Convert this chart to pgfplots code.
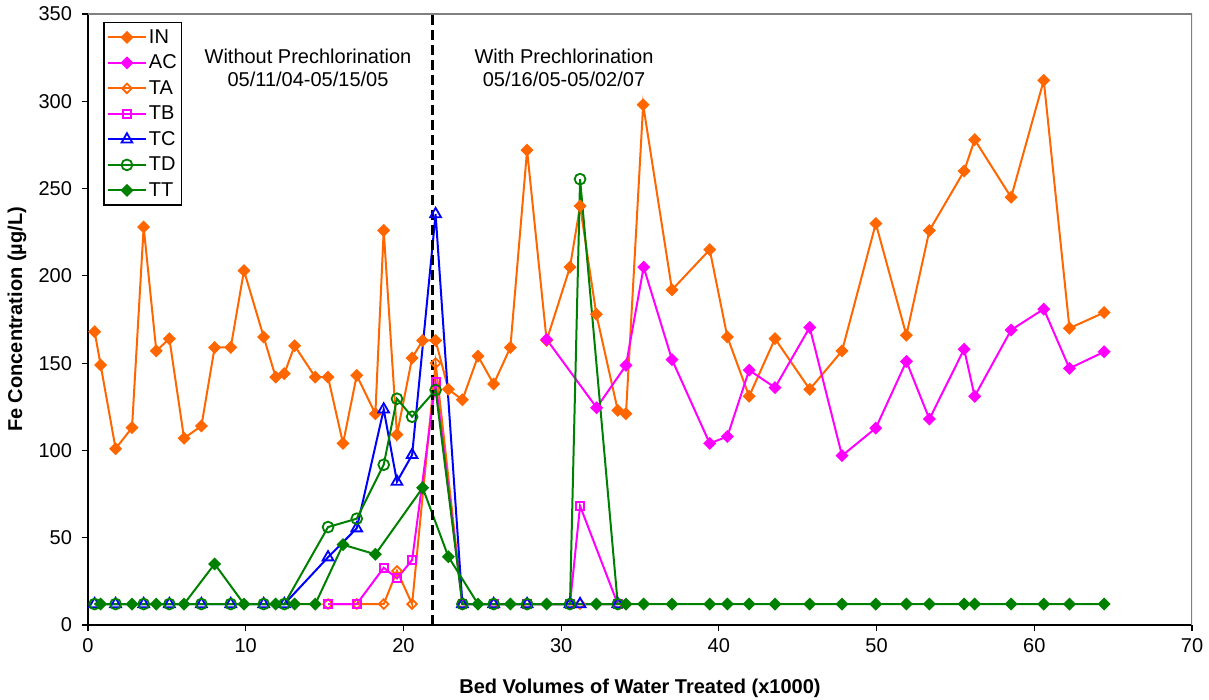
\documentclass[border=0pt]{standalone}
\usepackage{pgfplots}
\pgfplotsset{compat=1.18}
\usepackage{fontspec}
\setmainfont{Liberation Sans}
\definecolor{inorange}{RGB}{255,102,0}
\definecolor{acmag}{RGB}{255,0,255}
\definecolor{tcblue}{RGB}{0,0,255}
\definecolor{tdgreen}{RGB}{0,128,0}
\begin{document}
\begin{tikzpicture}
\begin{axis}[
  scale only axis, width=552pt, height=305.5pt,
  xmin=0, xmax=70, ymin=0, ymax=350,
  xtick={0,10,...,70}, ytick={0,50,...,350},
  axis x line*=bottom, axis y line*=left,
  axis line style={black, line width=0.6pt},
  tick align=outside, major tick length=3pt,
  tick style={black, line width=0.6pt},
  /pgf/number format/assume math mode=true,
  ticklabel style={font=\fontsize{10}{12}\selectfont},
  yticklabel style={xshift=-1.5pt},
  xlabel={Bed Volumes of Water Treated (x1000)},
  ylabel={Fe Concentration (µg/L)},
  every axis x label/.style={at={(axis description cs:0.5,0)}, yshift=-31.5pt, anchor=center, font=\fontsize{10}{12}\selectfont\bfseries},
  every axis y label/.style={at={(axis description cs:0,0.5)}, xshift=-35.5pt, rotate=90, anchor=center, font=\fontsize{10}{12}\selectfont\bfseries},
  legend style={at={(rel axis cs:0.0139,0.9864)}, anchor=north west, draw=black, line width=0.6pt,
    font=\fontsize{10}{12}\selectfont, inner xsep=1.5pt, inner ysep=1.9pt, row sep=2.05pt,
    nodes={inner sep=1pt, text height=7.2pt, text depth=1.5pt}},
  legend cell align=left,
  legend image code/.code={\draw[mark repeat=2,mark phase=2] plot coordinates {(0pt,0pt)(9.5pt,0pt)(19pt,0pt)};},
  every axis plot/.append style={line width=1pt},
]
\addplot[color=inorange, mark=square*, mark size=1.8pt, mark options={rotate=45, fill=inorange, solid}] coordinates {
(0.42,168) (0.80,149) (1.75,101) (2.79,113) (3.53,228) (4.33,157) (5.16,164) (6.09,107) (7.19,114) (8.03,159)
(9.05,159) (9.89,203) (11.14,165) (11.90,142) (12.45,144) (13.10,160) (14.41,142) (15.22,142) (16.17,104) (17.04,143)
(18.22,121) (18.75,226) (19.59,109) (20.55,153) (21.22,163) (22.04,163) (22.85,135) (23.74,129) (24.73,154) (25.72,138)
(26.78,159) (27.84,272) (29.08,163) (30.56,205) (31.20,240) (32.23,178) (33.59,123) (34.11,121) (35.20,298) (37.03,192)
(39.42,215) (40.54,165) (41.92,131) (43.56,164) (45.76,135) (47.81,157) (49.95,230) (51.89,166) (53.35,226) (55.55,260)
(56.22,278) (58.53,245) (60.60,312) (62.23,170) (64.43,179)};
\addlegendentry{IN}
\addplot[color=acmag, mark=square*, mark size=1.8pt, mark options={rotate=45, fill=acmag, solid}] coordinates {
(29.08,163.6) (32.25,124.5) (34.11,148.7) (35.23,205) (37.03,152) (39.42,104) (40.54,108) (41.92,146) (43.56,136)
(45.76,170.5) (47.81,97) (49.95,112.8) (51.89,151) (53.35,118) (55.55,158) (56.22,131) (58.53,169) (60.60,181)
(62.23,147) (64.43,156.5)};
\addlegendentry{AC}
\addplot[color=inorange, mark=square, mark size=1.7pt, mark options={rotate=45, fill=white, solid, line width=0.9pt}] coordinates {
(15.22,12) (17.04,12) (18.75,12) (19.59,31) (20.55,12) (22.04,150) (23.74,12) (25.72,12) (27.84,12) (30.56,12) (31.20,12) (33.59,12)};
\addlegendentry{TA}
\addplot[color=acmag, mark=square, mark size=2pt, mark options={fill=white, solid, line width=0.9pt}] coordinates {
(15.22,12) (17.04,12) (18.75,32.8) (19.59,26.7) (20.55,37.2) (22.04,139) (23.74,12) (25.72,12) (27.84,12) (30.56,12) (31.20,68.2) (33.59,12)};
\addlegendentry{TB}
\addplot[color=tcblue, mark=triangle, mark size=3.1pt, mark options={fill=white, solid, line width=0.9pt}] coordinates {
(0.42,12) (1.75,12) (3.53,12) (5.16,12) (7.19,12) (9.05,12) (11.14,12) (12.45,12) (15.22,38.8) (17.04,55.4)
(18.75,123.5) (19.59,82.1) (20.55,97.4) (22.04,235.4) (23.74,12) (25.72,12) (27.84,12) (30.56,12) (31.20,12) (33.59,12)};
\addlegendentry{TC}
\addplot[color=tdgreen, mark=o, mark size=2.7pt, mark options={fill=white, solid, line width=0.9pt}] coordinates {
(0.42,12) (1.75,12) (3.53,12) (5.16,12) (7.19,12) (9.05,12) (11.14,12) (12.45,12) (15.22,56.1) (17.04,60.9)
(18.75,91.8) (19.59,129.6) (20.55,119.3) (22.04,134.6) (23.74,12) (25.72,12) (27.84,12) (30.56,12) (31.20,255.4) (33.59,12)};
\addlegendentry{TD}
\addplot[color=tdgreen, mark=square*, mark size=1.8pt, mark options={rotate=45, fill=tdgreen, solid}] coordinates {
(0.80,12) (2.79,12) (4.33,12) (6.09,12) (8.03,35) (9.89,12) (11.90,12) (13.10,12) (14.41,12) (16.17,46)
(18.22,40.5) (21.22,78.6) (22.85,39.1) (24.73,12) (26.78,12) (29.08,12) (32.23,12) (34.11,12) (35.23,12) (37.03,12)
(39.42,12) (40.54,12) (41.92,12) (43.56,12) (45.76,12) (47.81,12) (49.95,12) (51.89,12) (53.35,12) (55.55,12)
(56.22,12) (58.53,12) (60.60,12) (62.23,12) (64.43,12)};
\addlegendentry{TT}
\draw[gray, line width=0.6pt] (rel axis cs:0,1) -- (rel axis cs:1,1) -- (rel axis cs:1,0);
\draw[black, line width=1.4pt, dash pattern=on 5pt off 2.5pt] (axis cs:21.83,0) -- (axis cs:21.83,350);
\node[align=center, font=\fontsize{10}{11.5}\selectfont] at (axis cs:13.95,319.3) {Without Prechlorination\\05/11/04-05/15/05};
\node[align=center, font=\fontsize{10}{11.5}\selectfont] at (axis cs:30.18,319.3) {With Prechlorination\\05/16/05-05/02/07};
\end{axis}
\pgfresetboundingbox
\path ([shift={(-44pt,-37pt)}]current axis.south west) rectangle ([shift={(8.5pt,7pt)}]current axis.north east);
\end{tikzpicture}
\end{document}
